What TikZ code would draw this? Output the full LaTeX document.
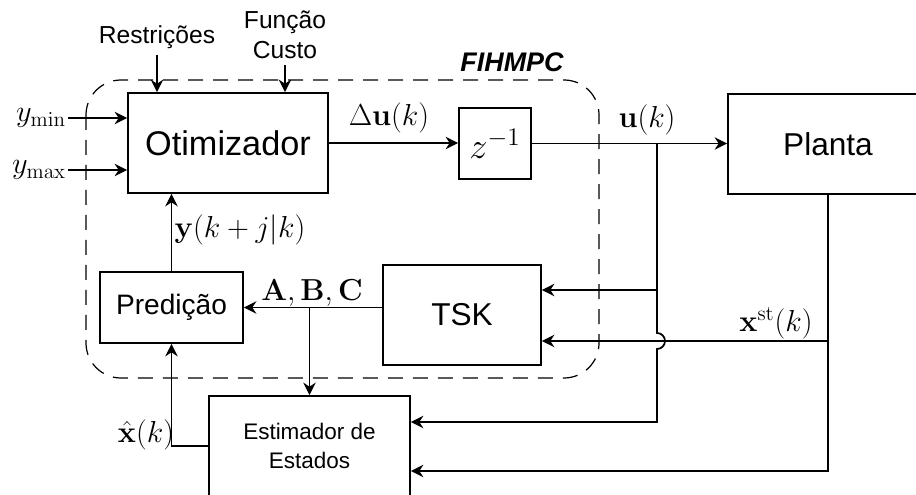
\documentclass[tikz,border=0pt]{standalone}
\usepackage[no-math]{fontspec}
\setmainfont{Liberation Sans}
\usepackage{amsmath}
\usepackage{tikz}
\usetikzlibrary{arrows.meta, calc}

\tikzset{
  bloco/.style={draw, rectangle, line width=1pt, inner sep=0pt},
  sinal/.style={-{Stealth[length=2.5mm,width=2.5mm]}, line width=1pt},
  rotulo/.style={font=\fontsize{17}{20}\selectfont, inner sep=1pt},
  texto/.style={font=\fontsize{14}{17}\selectfont, align=center},
}

\begin{document}
\begin{tikzpicture}[x=0.02cm, y=-0.02cm]
  \useasboundingbox (0,0) rectangle (916,494);

  % FIHMPC frame
  \draw[dash pattern=on 3mm off 2mm, line width=0.7pt, rounded corners=0.7cm]
    (86,80) rectangle (599,378);
  \node[font=\fontsize{15.3}{18}\selectfont\bfseries\itshape] (fihmpc)
    at (512,62) {FIHMPC};

  % Blocks
  \node[bloco, minimum width=4cm, minimum height=2cm,
        font=\fontsize{19.5}{23}\selectfont] (otim) at (228,143) {Otimizador};
  \node[bloco, minimum width=1.44cm, minimum height=1.42cm,
        font=\fontsize{21}{25}\selectfont] (atraso) at (495,143.5) {$z^{-1}$};
  \node[bloco, minimum width=4cm, minimum height=2cm,
        font=\fontsize{18}{22}\selectfont] (planta) at (828,144) {Planta};
  \node[bloco, minimum width=2.86cm, minimum height=1.42cm,
        font=\fontsize{16}{19}\selectfont] (pred) at (171.5,307.5) {Predição};
  \node[bloco, minimum width=3.16cm, minimum height=2cm,
        font=\fontsize{18}{22}\selectfont] (tsk) at (462,315) {TSK};
  \node[bloco, minimum width=4.02cm, minimum height=2cm, align=center,
        font=\fontsize{12.8}{16.5}\selectfont] (estim) at (309.5,446)
    {Estimador de\\Estados};

  % Inputs of the optimizer
  \node[texto] (restr) at (157,37) {Restrições};
  \node[texto] (custo) at (285,35) {Função\\Custo};
  \draw[sinal] (restr.south) -- (restr.south |- otim.north);
  \draw[sinal] (custo.south) -- (custo.south |- otim.north);
  \foreach \nome/\txt/\y in {ymin/{y_{\min}}/118, ymax/{y_{\max}}/170} {
    \node[rotulo, anchor=east] (\nome) at (68,\y) {$\txt$};
    \draw[sinal] (\nome.east) -- (\nome.east -| otim.west);
  }

  % Control signal
  \draw[sinal] (otim.east) -- (otim.east -| atraso.west);
  \node[rotulo] (du) at (389,118) {$\Delta\mathbf{u}(k)$};
  \coordinate (ub) at (657,143.5);
  \draw[sinal] (atraso.east) -- (atraso.east -| planta.west);
  \node[rotulo] (uk) at (647,120) {$\mathbf{u}(k)$};

  % Feedback to TSK and estimator
  \coordinate (tskin1) at ([yshift=0.5cm]tsk.east);
  \coordinate (tskin2) at ([yshift=-0.52cm]tsk.east);
  \coordinate (estin1) at ([yshift=0.48cm]estim.east);
  \coordinate (estin2) at ([yshift=-0.5cm]estim.east);
  \draw[sinal] (ub) -- ($(ub |- tskin2)+(0,-8)$)
    arc[start angle=90, end angle=-90, radius=0.16cm] |- (estin1);
  \draw[sinal] (ub |- tskin1) -- (tskin1);
  \draw[sinal] (planta.south) |- (estin2);
  \draw[sinal] (planta.south |- tskin2) -- (tskin2);
  \node[rotulo] (xst) at (776,323) {$\mathbf{x}^{\mathrm{st}}(k)$};

  % Model matrices and prediction
  \draw[sinal] (tsk.west |- pred.east) -- (pred.east);
  \draw[sinal] (estim.north |- pred.east) -- (estim.north);
  \node[rotulo] (abc) at (312,293) {$\mathbf{A},\mathbf{B},\mathbf{C}$};
  \draw[sinal] (estim.west) -| (pred.south);
  \node[rotulo] (xhat) at (146,435) {$\hat{\mathbf{x}}(k)$};
  \draw[sinal] (pred.north) -- (pred.north |- otim.south);
  \node[rotulo] (ypred) at (240,230) {$\mathbf{y}(k+j|k)$};

\end{tikzpicture}
\end{document}
